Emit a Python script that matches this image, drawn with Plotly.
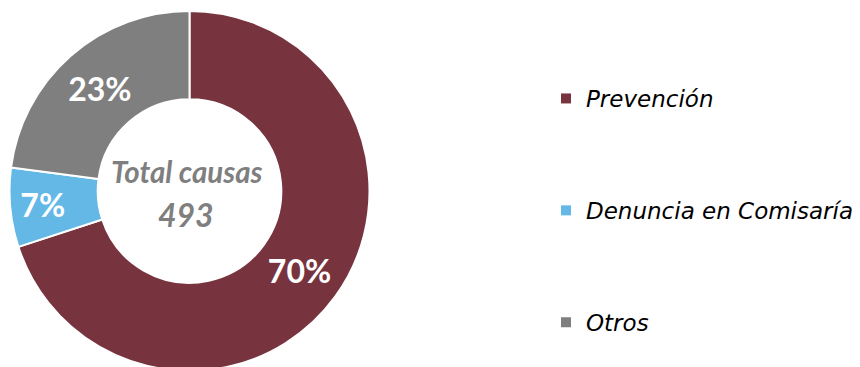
import plotly.graph_objects as go

# Data
labels = ["Prevención", "Denuncia en Comisaría", "Otros"]
values = [345, 35, 113]
colors = ["#77343F", "#63B8E6", "#7F7F7F"]
center_title = "Total causas"

W, H = 860, 367
OFF = 8  # page body margin offset
total = sum(values)

fig = go.Figure()

cxp, cyp, R = 189.5 - OFF, 191 - OFF, 180
fig.add_trace(go.Pie(
    labels=labels,
    values=values,
    sort=False,
    direction="clockwise",
    rotation=0,
    hole=0.51,
    marker=dict(colors=colors, line=dict(color="white", width=2)),
    texttemplate="%{percent:.0%}",
    textposition="inside",
    insidetextorientation="horizontal",
    textfont=dict(family="Lato", size=32, color="white", weight="bold"),
    showlegend=False,
    hoverinfo="label+value+percent",
    domain=dict(x=[(cxp - R) / W, (cxp + R) / W],
                y=[1 - (cyp + R) / H, 1 - (cyp - R) / H]),
))

# Legend entries (one per category, so that spacing between them can be set)
for lab, col in zip(labels, colors):
    fig.add_trace(go.Scatter(
        x=[None], y=[None], mode="markers", name=lab,
        marker=dict(symbol="square", size=10, color=col),
        legendgroup=lab, showlegend=True, hoverinfo="skip",
    ))

fig.add_annotation(x=(cxp - 3) / W, y=1 - (171 - OFF) / H, xref="paper", yref="paper",
                   xanchor="center", yanchor="middle",
                   text=f"<b><i>{center_title}</i></b>", showarrow=False,
                   font=dict(family="Lato", size=29.5, color="#7F7F7F"))
fig.add_annotation(x=(cxp - 4) / W, y=1 - (214 - OFF) / H, xref="paper", yref="paper",
                   xanchor="center", yanchor="middle",
                   text=f"<b><i>{total}</i></b>", showarrow=False,
                   font=dict(family="Lato", size=32, color="#7F7F7F"))

fig.update_layout(
    width=W, height=H,
    margin=dict(l=0, r=0, t=0, b=0),
    paper_bgcolor="white", plot_bgcolor="white",
    xaxis=dict(visible=False), yaxis=dict(visible=False),
    legend=dict(
        x=(586 - OFF - 40) / W, xanchor="left",
        y=1 - (210.5 - OFF) / H, yanchor="middle",
        tracegroupgap=79,
        itemsizing="trace",
        font=dict(family="DejaVu Sans", size=23, color="black", style="italic"),
        bgcolor="rgba(0,0,0,0)",
    ),
)

fig.write_html("out.html")
